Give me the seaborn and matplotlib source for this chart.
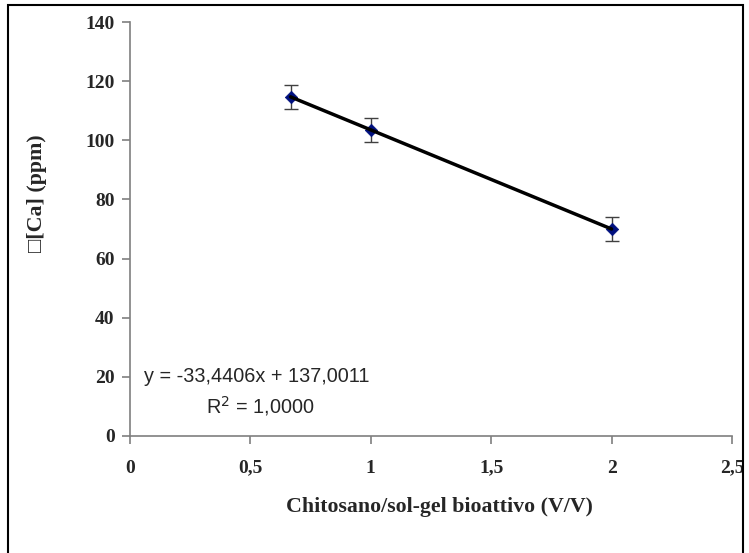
import matplotlib
matplotlib.use("Agg")
import matplotlib.pyplot as plt
from matplotlib.patches import Rectangle
import numpy as np
import pandas as pd
import seaborn as sns

# Data
ratio = [2/3, 1.0, 2.0]
delta_ca = [114.7, 103.5, 70.0]
err = [4.0, 4.0, 4.0]
xticks = [0, 0.5, 1, 1.5, 2, 2.5]
xtick_labels = ["0", "0,5", "1", "1,5", "2", "2,5"]
yticks = [0, 20, 40, 60, 80, 100, 120, 140]
eq_text = "y = -33,4406x + 137,0011"
r2_text = "R$^2$ = 1,0000"

df = pd.DataFrame({"x": ratio, "y": delta_ca, "err": err})

sns.set_style("white")
plt.rcParams["font.family"] = ["Liberation Serif", "DejaVu Sans"]

fig = plt.figure(figsize=(7.49, 5.53), dpi=100)
ax = fig.add_axes([130/749, 1-436/553, (732-130)/749, (436-22)/553])

ax.errorbar(df["x"], df["y"], yerr=df["err"], fmt="none", ecolor="#404040",
            elinewidth=1.0, capsize=5, capthick=1.0, zorder=2)
sns.scatterplot(data=df, x="x", y="y", marker="D", color="#00107f",
                edgecolor="#00107f", s=40, ax=ax, zorder=3, legend=False)
sns.regplot(data=df, x="x", y="y", ci=None, scatter=False, truncate=True,
            line_kws=dict(color="black", lw=2.5, zorder=4), ax=ax)

ax.set_xlim(0, 2.5)
ax.set_ylim(0, 140)
ax.set_xticks(xticks)
ax.set_xticklabels(xtick_labels)
ax.set_yticks(yticks)
ax.set_yticklabels([str(v) for v in yticks])

for s in ["top", "right"]:
    ax.spines[s].set_visible(False)
for s in ["left", "bottom"]:
    ax.spines[s].set_color("#7f7f7f")
    ax.spines[s].set_linewidth(1.2)
ax.tick_params(axis="both", direction="out", length=6, width=1.2, color="#7f7f7f",
               labelsize=14, left=True, bottom=True)
ax.tick_params(axis="x", pad=11)
ax.tick_params(axis="y", pad=5)
for lab in ax.get_xticklabels() + ax.get_yticklabels():
    lab.set_fontweight("bold")

ax.set_xlabel("Chitosano/sol-gel bioattivo (V/V)", fontsize=15.75, fontweight="bold")
ax.xaxis.set_label_coords((439-130)/602, (436-507)/414)
ax.xaxis.label.set_va("center")
ax.set_ylabel("\u25a1[Ca] (ppm)", fontsize=15.75, fontweight="bold")
ax.yaxis.set_label_coords((37-130)/602, (436-193)/414)
ax.yaxis.label.set_va("center")

ax.text((144-130)/602, (436-376)/414, eq_text, transform=ax.transAxes,
        fontsize=14.3, family="Liberation Sans", va="center", ha="left")
ax.text((206-130)/602, (436-406)/414, r2_text, transform=ax.transAxes,
        fontsize=14.3, family="Liberation Sans", va="center", ha="left")

ax.set_facecolor("white")
fig.patch.set_facecolor("white")

border = Rectangle((8/749, -0.1), (743-8)/749, 1-5/553+0.1, transform=fig.transFigure,
                   fill=False, edgecolor="black", lw=1.5, zorder=10)
fig.patches.append(border)

fig.savefig("out.png", dpi=100)
